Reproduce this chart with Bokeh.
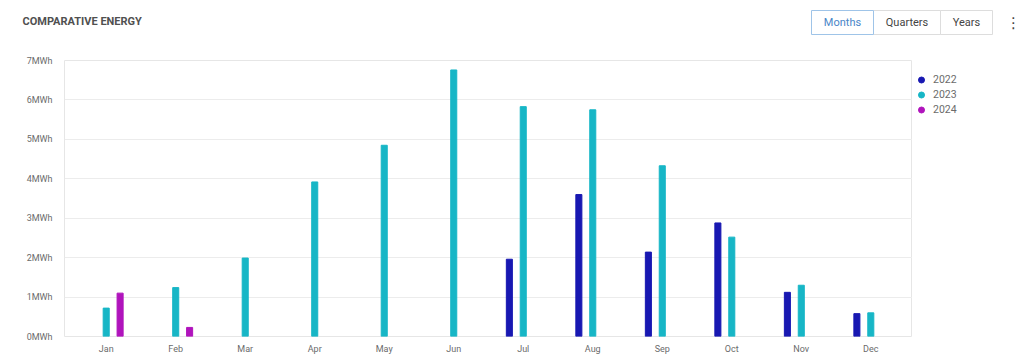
from bokeh.plotting import figure
from bokeh.layouts import column, row
from bokeh.models import ColumnDataSource, FixedTicker, Legend, LegendItem
from bokeh.core.properties import value
from bokeh.embed import file_html
from bokeh.resources import INLINE

months = ["Jan", "Feb", "Mar", "Apr", "May", "Jun", "Jul", "Aug", "Sep", "Oct", "Nov", "Dec"]
y2022 = [0, 0, 0, 0, 0, 0, 1.96, 3.60, 2.14, 2.88, 1.12, 0.58]
y2023 = [0.72, 1.24, 1.99, 3.92, 4.85, 6.76, 5.83, 5.75, 4.33, 2.52, 1.30, 0.60]
y2024 = [1.10, 0.23, 0, 0, 0, 0, 0, 0, 0, 0, 0, 0]
years = ["2022", "2023", "2024"]
colors = ["#1818b2", "#17b6c6", "#b014bc"]
offsets = [-0.2, 0.0, 0.2]
yticks = [0, 1, 2, 3, 4, 5, 6, 7]
ytick_labels = [f"{v}MWh" for v in yticks]
buttons = ["Months", "Quarters", "Years"]

FONT = "Roboto"
W = 1024
HH = 45           # header height
H = 363 - HH
L, T, B = 64, 15, 27
MW = 912          # main figure width (frame right edge)
LW = W - MW       # legend strip width

def bare(fig):
    fig.grid.visible = False
    fig.outline_line_color = None
    fig.border_fill_color = "white"
    fig.background_fill_color = "white"
    return fig

# ---------------- header ----------------
hdr = bare(figure(width=W, height=HH, output_backend="svg", toolbar_location=None,
                  x_range=(0, W), y_range=(HH, 0),
                  x_axis_location=None, y_axis_location=None,
                  min_border=0, min_border_left=0, min_border_right=0,
                  min_border_top=0, min_border_bottom=0))

hdr.text(x=[22], y=[21], text=["COMPARATIVE ENERGY"], text_font=value(FONT),
         text_font_size="11px", text_font_style="bold", text_color="#505050",
         text_align="left", text_baseline="middle")
bx0 = [811, 873, 940]
bx1 = [873, 940, 992]
btext = ["#4a86c8", "#444444", "#444444"]
hdr.quad(left=bx0[1:], right=bx1[1:], top=[10, 10], bottom=[34, 34],
         fill_color="white", line_color="#dddddd", line_width=1)
hdr.quad(left=bx0[:1], right=bx1[:1], top=[10], bottom=[34],
         fill_color="white", line_color="#9fc4e8", line_width=1)
hdr.text(x=[(a + b) / 2 for a, b in zip(bx0, bx1)], y=[22, 22, 22], text=buttons,
         text_font=value(FONT), text_font_size="11px", text_color=btext,
         text_align="center", text_baseline="middle")
hdr.text(x=[1013], y=[22], text=["⋮"], text_font=value("DejaVu Sans"),
         text_font_size="15px", text_color="#444444",
         text_align="center", text_baseline="middle")

# ---------------- main chart ----------------
p = figure(width=MW, height=H, output_backend="svg", toolbar_location=None,
           x_range=(-0.6, 11.6), y_range=(0, 7),
           min_border_left=L, min_border_right=0, min_border_top=T, min_border_bottom=B)
p.outline_line_color = "#e6e6e6"
p.background_fill_color = "white"
p.border_fill_color = "white"

idx = list(range(len(months)))
series = [y2022, y2023, y2024]
for name, vals, col, off in zip(years, series, colors, offsets):
    xs = [i + off for i, v in zip(idx, vals) if v > 0]
    ys = [v for v in vals if v > 0]
    src = ColumnDataSource(dict(x=xs, top=ys))
    p.vbar(x="x", top="top", width=0.087, bottom=0, source=src, color=col)

p.xaxis.ticker = FixedTicker(ticks=idx)
p.xaxis.major_label_overrides = {i: m for i, m in zip(idx, months)}
p.yaxis.ticker = FixedTicker(ticks=yticks)
p.yaxis.major_label_overrides = {v: l for v, l in zip(yticks, ytick_labels)}
for ax in (p.xaxis, p.yaxis):
    ax.axis_line_color = None
    ax.major_tick_line_color = None
    ax.minor_tick_line_color = None
    ax.major_tick_out = 0
    ax.major_tick_in = 0
    ax.minor_tick_out = 0
    ax.major_label_text_font = FONT
    ax.major_label_text_font_size = "9px"
    ax.major_label_text_color = "#6b6b6b"
p.yaxis.major_label_standoff = 12
p.xaxis.major_label_standoff = 7
p.xgrid.grid_line_color = None
p.ygrid.grid_line_color = "#ececec"

# ---------------- legend strip ----------------
lg = bare(figure(width=LW, height=H, output_backend="svg", toolbar_location=None,
                 x_range=(0, 1), y_range=(0, 1),
                 x_axis_location=None, y_axis_location=None,
                 min_border=0, min_border_left=0, min_border_right=0,
                 min_border_top=T, min_border_bottom=B))
items = []
for name, col in zip(years, colors):
    dot = lg.scatter(x=[0.5], y=[float("nan")], size=9, color=col, marker="circle")
    items.append(LegendItem(label=name, renderers=[dot]))
legend = Legend(items=items, orientation="vertical", location="top_left")
legend.margin = 0
legend.padding = 2
legend.spacing = 0
legend.glyph_width = 18
legend.glyph_height = 15
legend.label_height = 15
legend.label_standoff = 3
legend.label_text_font = FONT
legend.label_text_font_size = "10.5px"
legend.label_text_color = "#6b6b6b"
legend.title = " "
legend.title_text_font_size = "2px"
legend.title_standoff = 10
legend.border_line_color = None
legend.background_fill_alpha = 0
lg.add_layout(legend, "center")

layout = column(hdr, row(p, lg, spacing=0), spacing=0)
open("out.html", "w").write(file_html(layout, INLINE))
